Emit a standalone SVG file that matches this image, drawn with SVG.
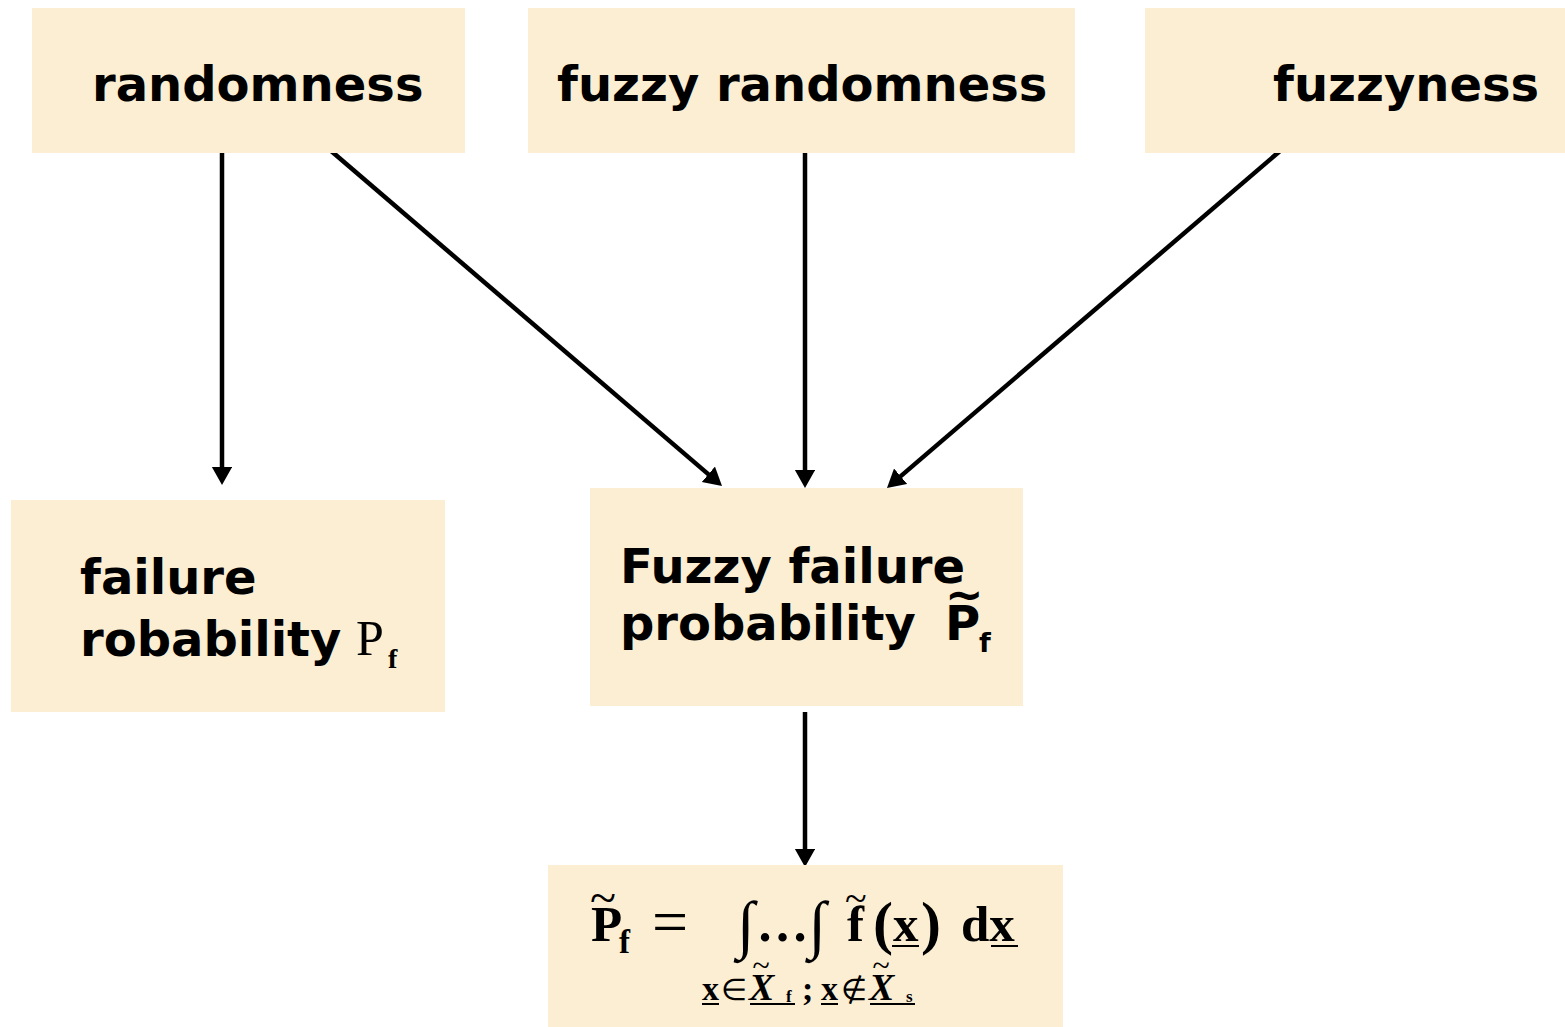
<svg xmlns="http://www.w3.org/2000/svg" width="1565" height="1027" viewBox="0 0 1565 1027">
<style>
.box{fill:#FBEED3}
.t{font-family:"DejaVu Sans","Verdana",sans-serif;font-weight:bold;font-size:48px;fill:#000}
.m{font-family:"Liberation Serif","Times New Roman",serif;font-weight:bold;fill:#000}
.n{font-weight:normal}
.i{font-style:italic}
.c{stroke:#000;stroke-width:4.5;fill:none;marker-end:url(#ah)}
.u{stroke:#000;stroke-width:2}
</style>
<defs>
<marker id="ah" markerWidth="5" markerHeight="5" refX="2" refY="2.25" orient="auto" markerUnits="strokeWidth">
<path d="M0,0 L4,2.25 L0,4.5 z" fill="#000"/>
</marker>
</defs>
<rect width="1565" height="1027" fill="#fff"/>
<g id="connectors">
<line class="c" x1="222" y1="150" x2="222" y2="476"/>
<line class="c" x1="330" y1="150" x2="715.2" y2="480.1"/>
<line class="c" x1="805" y1="153" x2="805" y2="479"/>
<line class="c" x1="1280" y1="151" x2="893.8" y2="482.1"/>
<line class="c" x1="805" y1="712" x2="805" y2="858"/>
</g>
<g id="randomness">
<rect class="box" x="32" y="8" width="433" height="145"/>
<text class="t" x="92" y="101">randomness</text>
</g>
<g id="fuzzy-randomness">
<rect class="box" x="528" y="8" width="547" height="145"/>
<text class="t" x="557" y="101">fuzzy randomness</text>
</g>
<g id="fuzzyness">
<rect class="box" x="1145" y="8" width="420" height="145"/>
<text class="t" x="1273" y="101">fuzzyness</text>
</g>
<g id="failure-probability">
<rect class="box" x="11" y="500" width="434" height="212"/>
<text class="t" x="80" y="594">failure</text>
<text class="t" x="80" y="656">robability</text>
<text class="m" x="356" y="655" font-size="50"><tspan class="n">P</tspan><tspan x="388" y="668" font-size="28">f</tspan></text>
</g>
<g id="fuzzy-failure-probability">
<rect class="box" x="590" y="488" width="433" height="218"/>
<text class="t" x="620" y="583">Fuzzy failure</text>
<text class="t" x="620" y="640">probability</text>
<text class="t" x="945" y="640">P<tspan x="945" y="610" font-size="46">~</tspan><tspan x="979" y="652" font-size="27">f</tspan></text>
</g>
<g id="formula">
<rect class="box" x="548" y="865" width="515" height="162"/>
<text class="m" x="591" y="941" font-size="51">P<tspan x="590" y="914" font-size="48" style="font-weight:normal">~</tspan><tspan x="619" y="953" font-size="33">f</tspan></text>
<text class="m n" x="652" y="943" font-size="64">=</text>
<text class="m" x="737" y="946" font-size="64"><tspan class="n">∫</tspan><tspan font-size="52" y="941" dx="2">…</tspan><tspan class="n" y="946">∫</tspan></text>
<text class="m" x="847" y="941" font-size="51">f<tspan x="845" y="912" font-size="40" style="font-weight:normal">~</tspan></text>
<text class="m" x="873" y="943" font-size="60">(</text>
<text class="m" x="893" y="941" font-size="51">x</text>
<text class="m" x="921" y="943" font-size="60">)</text>
<text class="m" x="961" y="941" font-size="51">dx</text>
<line class="u" x1="892" y1="946" x2="919" y2="946"/>
<line class="u" x1="991" y1="946" x2="1018" y2="946"/>
<text class="m" x="702" y="1000" font-size="34">x</text>
<line class="u" x1="702" y1="1004" x2="719" y2="1004"/>
<text class="m n" x="721" y="1000" font-size="30">∈</text>
<text class="m i" x="749" y="1000" font-size="38">X<tspan x="752" y="976" font-size="32" style="font-weight:normal">~</tspan><tspan x="786" y="1002" font-size="17" style="font-style:normal">f</tspan></text>
<line class="u" x1="750" y1="1004" x2="795" y2="1004"/>
<text class="m" x="802" y="1000" font-size="34">;</text>
<text class="m" x="821" y="1000" font-size="34">x</text>
<line class="u" x1="821" y1="1004" x2="838" y2="1004"/>
<text class="m n" x="841" y="1000" font-size="30">∉</text>
<text class="m i" x="869" y="1000" font-size="38">X<tspan x="872" y="976" font-size="32" style="font-weight:normal">~</tspan><tspan x="906" y="1002" font-size="17" style="font-style:normal">s</tspan></text>
<line class="u" x1="870" y1="1004" x2="915" y2="1004"/>
</g>
</svg>
